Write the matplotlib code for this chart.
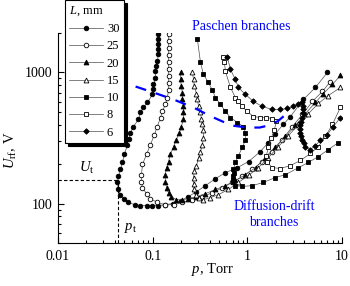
import matplotlib
matplotlib.use('Agg')
import matplotlib.pyplot as plt
import numpy as np
from matplotlib.ticker import LogLocator, NullFormatter

# pressure p (Torr) and rf voltage U (V), one pair per gap length L
p30 = [0.115, 0.115, 0.115, 0.115, 0.115, 0.112, 0.1096, 0.107, 0.107, 0.102, 0.102, 0.0995,
       0.0881, 0.080, 0.0743, 0.0708, 0.0627, 0.0583, 0.0562, 0.0542, 0.0503, 0.048, 0.0457,
       0.0435, 0.0425, 0.0435, 0.0457, 0.0492, 0.0555, 0.0643, 0.0743, 0.0861, 0.0995, 0.115,
       0.136, 0.162, 0.197, 0.239, 0.290, 0.361, 0.461, 0.587, 0.785, 1.03, 1.37, 1.67, 1.98,
       2.40, 2.85, 3.91, 5.24, 7.01]
u30 = [1950, 1786, 1636, 1500, 1372, 1213, 1120, 1018, 900, 810, 742, 679,
       590, 541, 495, 438, 387, 348, 313, 282, 237, 206, 182,
       161, 145, 128, 117, 109, 102, 98, 96.5, 96.5, 96.5, 96.5,
       98, 100, 105, 113, 123, 137, 155, 172, 188, 209, 249, 292, 342,
       401, 461, 622, 768, 1000]

p25 = [0.147, 0.147, 0.147, 0.147, 0.147, 0.147, 0.147, 0.147, 0.147, 0.143, 0.136, 0.127,
       0.121, 0.112, 0.1045, 0.0948, 0.0861, 0.078, 0.0762, 0.0762, 0.078, 0.0861, 0.0948,
       0.112, 0.136, 0.166, 0.206, 0.263, 0.336, 0.428, 0.546, 0.696, 0.887, 1.13, 1.44,
       1.84, 2.35, 2.99, 3.82, 4.87, 6.21, 7.55]
u25 = [1950, 1725, 1525, 1349, 1192, 1054, 932, 824, 729, 644, 570, 504,
       453, 387, 336, 282, 237, 199, 166, 147, 132, 119, 109,
       102, 98, 98, 102, 107, 113, 121, 132, 145, 161, 182, 209,
       249, 308, 387, 478, 601, 716, 853]

p20 = [0.197, 0.197, 0.201, 0.206, 0.206, 0.211, 0.211, 0.211, 0.201, 0.192, 0.178, 0.166,
       0.154, 0.147, 0.140, 0.136, 0.136, 0.140, 0.147, 0.158, 0.178, 0.206, 0.239, 0.290,
       0.361, 0.461, 0.587, 0.748, 0.955, 1.22, 1.55, 1.98, 2.53, 3.22, 4.11, 5.24, 6.36,
       7.92, 9.62]
u20 = [1000, 884, 782, 703, 622, 550, 495, 438, 387, 348, 308, 272,
       237, 209, 188, 166, 147, 132, 121, 113, 107, 107, 109, 113,
       119, 128, 137, 150, 166, 188, 224, 272, 325, 394, 486, 590, 691,
       810, 948]

p15 = [0.263, 0.270, 0.276, 0.290, 0.297, 0.305, 0.320, 0.327, 0.336, 0.344, 0.344, 0.336,
       0.320, 0.305, 0.290, 0.276, 0.270, 0.270, 0.276, 0.290, 0.312, 0.344, 0.408, 0.495,
       0.631, 0.805, 1.03, 1.31, 1.67, 2.13, 2.72, 3.47, 4.42, 5.63, 7.18, 9.62]
u15 = [1000, 884, 782, 691, 622, 550, 495, 445, 401, 361, 319, 282,
       249, 221, 195, 176, 158, 142, 128, 117, 111, 107, 111, 117,
       128, 145, 164, 188, 224, 272, 330, 401, 486, 580, 667, 768]

p10 = [0.297, 0.320, 0.344, 0.388, 0.428, 0.461, 0.520, 0.587, 0.663, 0.785, 0.910, 0.955,
       0.955, 0.887, 0.805, 0.748, 0.713, 0.72, 0.713, 0.71, 0.713, 0.748, 0.887, 1.13,
       1.48, 1.98, 2.53, 3.47, 4.42, 5.63, 7.18, 9.16]
u10 = [1786, 1192, 965, 839, 729, 644, 570, 504, 453, 415, 387, 348,
       308, 268, 232, 206, 182, 172, 161, 152, 145, 137, 135, 137,
       145, 158, 166, 188, 206, 228, 258, 292]

p8 = [0.560, 0.573, 0.587, 0.663, 0.748, 0.805, 0.887, 1.00, 1.16, 1.37, 1.59, 1.84,
      2.03, 1.93, 1.80, 1.67, 1.59, 1.63, 1.84, 2.24, 2.85, 3.64, 4.64, 5.63, 6.68, 7.92, 9.62]
u8 = [1302, 1192, 1018, 768, 644, 601, 550, 504, 461, 453, 453, 445,
      423, 367, 319, 272, 232, 206, 188, 185, 195, 213, 241, 272, 325, 401, 541]

p6 = [0.617, 0.663, 0.748, 0.805, 0.955, 1.16, 1.44, 1.84, 2.24, 2.65, 3.07, 3.47,
      3.82, 3.90, 3.91, 3.85, 3.82, 3.70, 3.64, 3.62, 3.64, 3.70, 3.82, 3.95, 4.11, 4.64,
      5.24, 5.91, 7.01, 8.11, 9.62]
u6 = [1302, 1054, 884, 768, 679, 601, 550, 522, 522, 531, 550, 570,
      590, 556, 522, 487, 453, 422, 394, 370, 348, 327, 308, 290, 272, 258,
      277, 303, 336, 387, 453]

# blue dashed guide through the Paschen minima
p_guide = [0.066, 0.102, 0.166, 0.269, 0.417, 0.68, 1.0, 1.35, 1.67, 2.1, 2.4, 2.95]
u_guide = [781, 703, 622, 541, 461, 394, 380, 380, 394, 425, 461, 513]

p_t, U_t = 0.0435, 150

plt.rcParams['font.family'] = 'Liberation Serif'
plt.rcParams['mathtext.fontset'] = 'custom'
plt.rcParams['mathtext.rm'] = 'Liberation Serif'
plt.rcParams['mathtext.it'] = 'Liberation Serif:italic'

W, H = 350, 286
fig = plt.figure(figsize=(W / 100, H / 100), dpi=100)
ax = fig.add_axes([58 / W, 43 / H, 284 / W, 210 / H])

series = [
    ('30', p30, u30, 'o', 'black'),
    ('25', p25, u25, 'o', 'white'),
    ('20', p20, u20, '^', 'black'),
    ('15', p15, u15, '^', 'white'),
    ('10', p10, u10, 's', 'black'),
    ('8', p8, u8, 's', 'white'),
    ('6', p6, u6, 'D', 'black'),
]
sizes = {'o': 3.3, '^': 3.5, 's': 3.0, 'D': 2.8}
for label, p, u, m, fc in series:
    ax.plot(p, u, color='0.3', lw=0.5, marker=m, ms=sizes[m], mfc=fc,
            mec='black', mew=0.6, label=label)

ax.plot(p_guide, u_guide, color='blue', lw=1.6, dashes=(5, 4.5))

# threshold markers
ax.plot([0.01, p_t], [U_t, U_t], color='black', lw=0.8, dashes=(3, 2))
ax.plot([p_t, p_t], [50, U_t], color='black', lw=0.8, dashes=(3, 2))

ax.set_xscale('log')
ax.set_yscale('log')
ax.set_xlim(0.01, 10)
ax.set_ylim(50, 2000)
ax.set_xticks([0.01, 0.1, 1, 10])
ax.set_xticklabels(['0.01', '0.1', '1', '10'])
ax.set_yticks([100, 1000])
ax.set_yticklabels(['100', '1000'])
for axis in (ax.xaxis, ax.yaxis):
    axis.set_minor_locator(LogLocator(base=10, subs=np.arange(2, 10), numticks=20))
    axis.set_minor_formatter(NullFormatter())
ax.tick_params(which='both', direction='in', top=False, right=False, width=0.8, labelsize=10)
ax.tick_params(which='major', length=4)
ax.tick_params(which='minor', length=2)
ax.tick_params(axis='x', pad=5)
ax.tick_params(axis='y', pad=4)
ax.spines['top'].set_visible(False)
ax.spines['right'].set_visible(False)
for s in ('left', 'bottom'):
    ax.spines[s].set_linewidth(0.8)

def ftext(x, y, s, **kw):
    fig.text(x / W, 1 - y / H, s, ha='center', va='center', **kw)

ftext(11, 150, r'$U_{\rm rf}$, V', rotation=90, fontsize=10.5)
ftext(213, 269, r'$p$, Torr', fontsize=10.5)
ftext(87, 168, r'$U_{\rm t}$', fontsize=10.5)
ftext(131, 228, r'$p_{\rm t}$', fontsize=10.5)
ftext(241, 26, 'Paschen branches', color='blue', fontsize=10)
ftext(274, 215, 'Diffusion-drift\nbranches', color='blue', fontsize=10, linespacing=1.3)

leg = ax.legend(loc='upper left', bbox_to_anchor=(65 / W, 1.0), bbox_transform=fig.transFigure,
                title='$L$, mm', fontsize=9, title_fontsize=9, fancybox=False,
                shadow={'color': 'black', 'alpha': 1}, edgecolor='black', framealpha=1,
                borderaxespad=0, borderpad=0.35, labelspacing=0.42, handlelength=2.7,
                handletextpad=0.3, alignment='left')
leg.get_frame().set_linewidth(0.8)

fig.savefig('out.png', dpi=100)
